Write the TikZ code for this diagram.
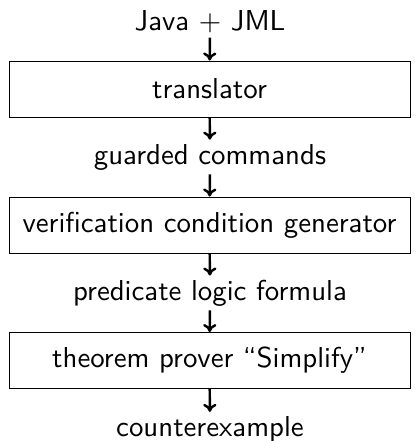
\documentclass[tikz,border=0pt]{standalone}
\usepackage{tikz}
\usetikzlibrary{arrows.meta}
\begin{document}
\begin{tikzpicture}[x=0.01219cm,y=-0.01219cm,font=\sffamily,
    stage/.style={draw,line width=0.3pt,minimum width=4.888cm,minimum height=0.683cm},
    label/.style={inner sep=1.3pt},
    flow/.style={-{To[length=2.8pt,width=4.6pt]},line width=0.85pt}]
        \useasboundingbox (0,0) rectangle (420,441) ;
        \node[label] (src) at (210,22) {Java $+$ JML} ;
        \node[stage] (trans) at (209.5,89) {translator} ;
        \node[label] (gcmd) at (210,157) {guarded commands} ;
        \node[stage] (vcgen) at (209.5,225) {verification condition generator} ;
        \node[label] (pred) at (210,293) {predicate logic formula} ;
        \node[stage] (prover) at (209.5,360.5) {theorem prover ``Simplify''} ;
        \node[label] (cex) at (210,429) {counterexample} ;
        \draw[flow] (src) -- (trans) ;
        \draw[flow] (trans) -- (gcmd) ;
        \draw[flow] (gcmd) -- (vcgen) ;
        \draw[flow] (vcgen) -- (pred) ;
        \draw[flow] (pred) -- (prover) ;
        \draw[flow] (prover) -- (cex) ;
      \end{tikzpicture}
\end{document}
